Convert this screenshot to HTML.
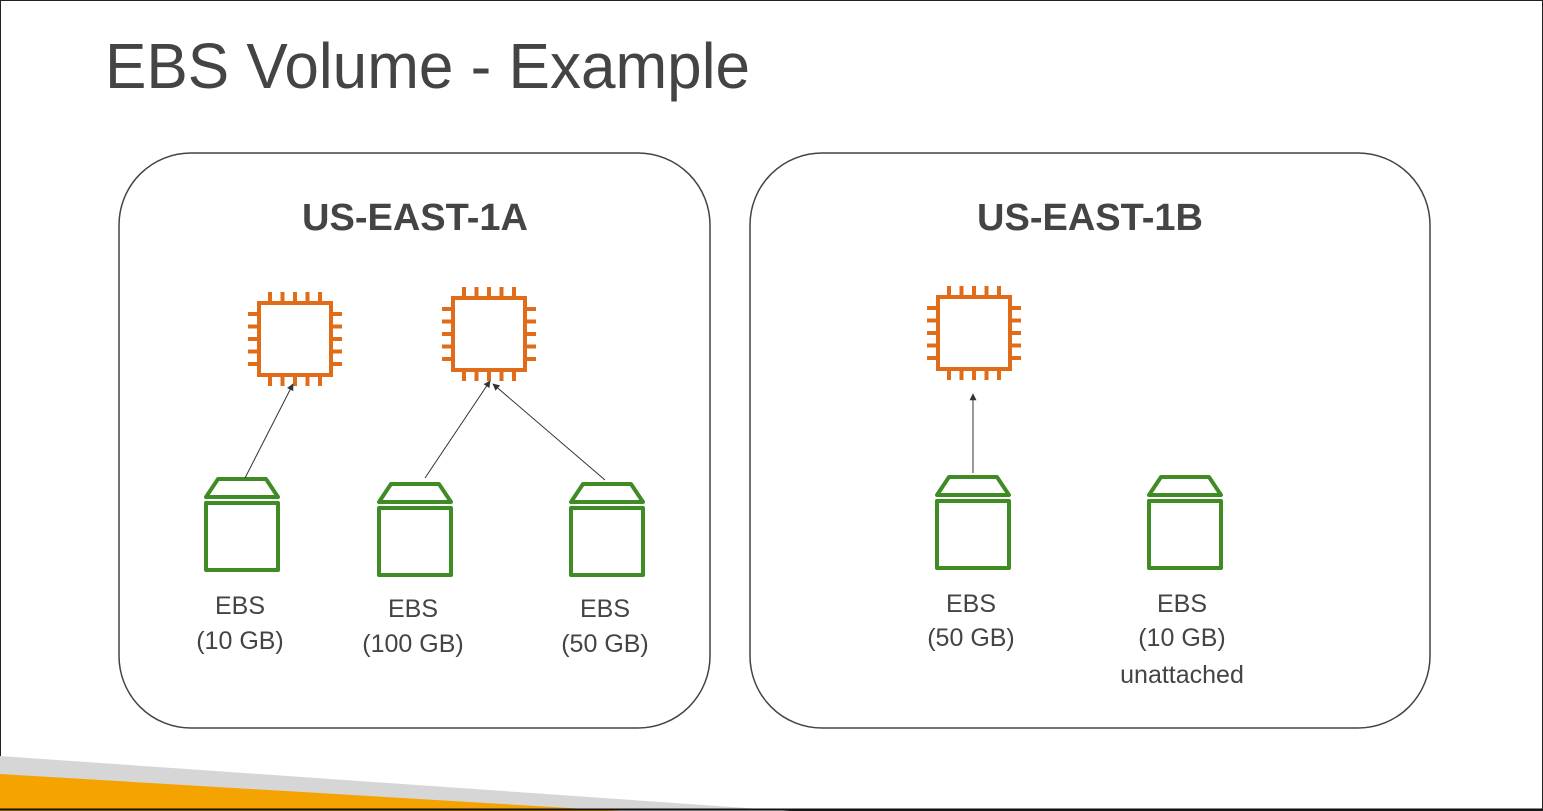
<!DOCTYPE html>
<html><head><meta charset="utf-8"><style>
html,body{margin:0;padding:0;background:#fff}
svg{display:block}
text{font-family:"Liberation Sans",sans-serif;fill:#444}
</style></head><body>
<svg width="1543" height="811" viewBox="0 0 1543 811">
<defs>
<g id="chip" fill="none" stroke="#e06c1a" stroke-width="4">
<rect x="-36" y="-36" width="72" height="72"/>
<path d="M-25 -47V-37M-12.5 -47V-37M0 -47V-37M12.5 -47V-37M25 -47V-37
M-25 37V47M-12.5 37V47M0 37V47M12.5 37V47M25 37V47
M-47 -25H-37M-47 -12.5H-37M-47 0H-37M-47 12.5H-37M-47 25H-37
M37 -25H47M37 -12.5H47M37 0H47M37 12.5H47M37 25H47"/>
</g>
<g id="ebs" fill="none" stroke="#3f8b24" stroke-width="4" stroke-linejoin="round">
<path d="M-24 0H24L36 18H-36Z"/>
<rect x="-36" y="24" width="72" height="67"/>
</g>
<marker id="ar" viewBox="0 0 10 10" refX="9" refY="5" markerWidth="7" markerHeight="7" orient="auto">
<path d="M0 0L10 5L0 10Z" fill="#333"/>
</marker>
</defs>
<rect x="0.5" y="0.5" width="1542" height="810" fill="none" stroke="#222" stroke-width="1"/>
<polygon points="0,756 790,811 0,811" fill="#d6d6d6"/>
<polygon points="0,774 620,811 0,811" fill="#f5a300"/>
<line x1="0" y1="809.5" x2="1543" y2="809.5" stroke="#111" stroke-width="2"/>
<text x="105" y="88" font-size="64" fill="#444" textLength="645" lengthAdjust="spacingAndGlyphs">EBS Volume - Example</text>
<rect x="119" y="153" width="591" height="575" rx="72" fill="none" stroke="#444" stroke-width="1.5"/>
<rect x="750" y="153" width="680" height="575" rx="72" fill="none" stroke="#444" stroke-width="1.5"/>
<text x="415" y="230" font-size="38" font-weight="bold" text-anchor="middle">US-EAST-1A</text>
<text x="1090" y="230" font-size="38" font-weight="bold" text-anchor="middle">US-EAST-1B</text>
<use href="#chip" x="295" y="339"/>
<use href="#chip" x="489" y="334"/>
<use href="#chip" x="974" y="333"/>
<use href="#ebs" x="242" y="479"/>
<use href="#ebs" x="415" y="484"/>
<use href="#ebs" x="607" y="484"/>
<use href="#ebs" x="973" y="477"/>
<use href="#ebs" x="1185" y="477"/>
<g stroke="#333" stroke-width="1" marker-end="url(#ar)">
<line x1="245" y1="478" x2="293" y2="384"/>
<line x1="425" y1="478" x2="490" y2="381"/>
<line x1="605" y1="480" x2="493" y2="384"/>
<line x1="973" y1="473" x2="973" y2="394"/>
</g>
<g font-size="25" text-anchor="middle">
<text x="240" y="614">EBS</text><text x="240" y="649">(10 GB)</text>
<text x="413" y="617">EBS</text><text x="413" y="652">(100 GB)</text>
<text x="605" y="617">EBS</text><text x="605" y="652">(50 GB)</text>
<text x="971" y="612">EBS</text><text x="971" y="646">(50 GB)</text>
<text x="1182" y="612">EBS</text><text x="1182" y="646">(10 GB)</text>
<text x="1182" y="683">unattached</text>
</g>
</svg>
</body></html>
